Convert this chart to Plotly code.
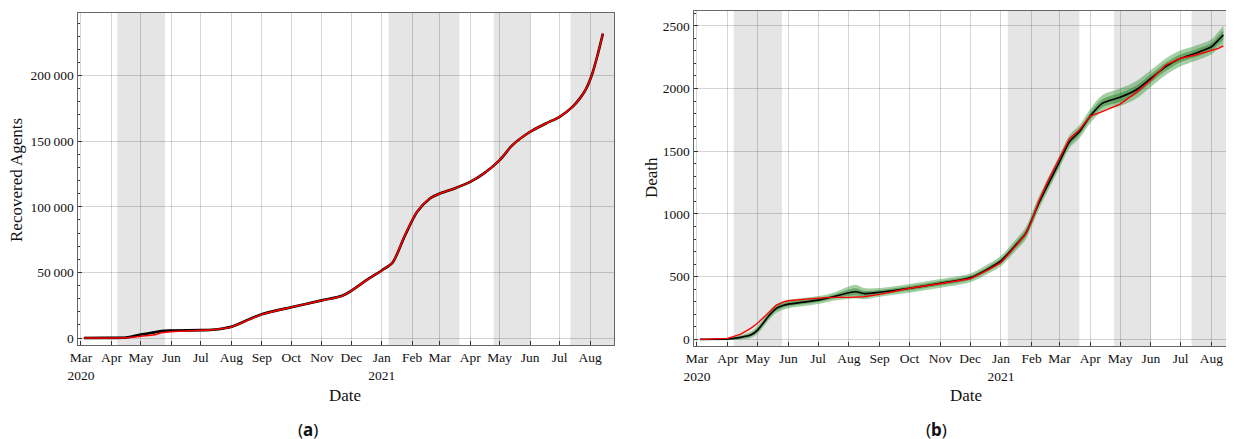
import plotly.graph_objects as go

# ---------------------------------------------------------------------------
# data

# (a) recovered agents
rec_dates = ['2020-03-04', '2020-04-01', '2020-04-16', '2020-05-01', '2020-05-15', '2020-05-22',
             '2020-06-01', '2020-07-01', '2020-07-13', '2020-07-25', '2020-08-01', '2020-08-19',
             '2020-09-01', '2020-10-01', '2020-11-01', '2020-11-21', '2020-12-01', '2020-12-18',
             '2021-01-01', '2021-01-12', '2021-01-24', '2021-02-06', '2021-02-19', '2021-03-01',
             '2021-03-16', '2021-04-01', '2021-04-15', '2021-05-01', '2021-05-14', '2021-06-01',
             '2021-06-17', '2021-07-01', '2021-07-14', '2021-07-22', '2021-07-28', '2021-08-03',
             '2021-08-08', '2021-08-14']
rec_model = [0, 100, 400, 2700, 4300, 5300, 5700, 6000, 6300, 7500, 8600, 14200, 18200, 23500,
             28700, 32000, 36000, 44900, 51500, 57500, 77100, 96200, 106400, 110200, 114000,
             119000, 125500, 135600, 147000, 157200, 163500, 168600, 176200, 183000, 190000,
             201000, 214000, 232000]
rec_data = [0, 50, 200, 1400, 2500, 4000, 4800, 5900, 6300, 7400, 8500, 14000, 18000, 23400,
            28600, 31900, 35900, 44800, 51400, 57500, 77500, 96500, 106400, 110200, 114000,
            119000, 125500, 135600, 147000, 157200, 163500, 168600, 176200, 183000, 190000,
            201000, 214000, 232000]

# (b) deaths
death_dates = ['2020-03-04', '2020-04-01', '2020-04-14', '2020-04-24', '2020-05-01', '2020-05-13',
               '2020-05-20', '2020-05-28', '2020-06-01', '2020-07-01', '2020-07-16', '2020-08-01',
               '2020-08-08', '2020-08-16', '2020-09-01', '2020-10-01', '2020-11-01', '2020-12-01',
               '2020-12-20', '2021-01-01', '2021-01-16', '2021-01-26', '2021-02-01', '2021-02-08',
               '2021-02-18', '2021-03-01', '2021-03-11', '2021-03-21', '2021-04-01', '2021-04-13',
               '2021-05-01', '2021-05-17', '2021-06-01', '2021-06-16', '2021-07-01', '2021-07-16',
               '2021-08-01', '2021-08-08', '2021-08-13']
death_model = [0, 3, 16, 34, 74, 194, 247, 273, 281, 313, 340, 372, 380, 365, 375, 407, 447, 491,
               566, 625, 752, 845, 951, 1084, 1244, 1416, 1576, 1655, 1781, 1882, 1930, 1988,
               2081, 2174, 2241, 2281, 2333, 2387, 2427]
death_data = [0, 8, 42, 88, 128, 220, 273, 300, 308, 329, 335, 335, 337, 340, 359, 407, 443, 483,
              558, 611, 745, 840, 945, 1100, 1275, 1440, 1600, 1670, 1781, 1815, 1876, 1967,
              2068, 2187, 2241, 2267, 2307, 2320, 2339]
death_band_outer = [2, 10, 18, 24, 30, 34, 34, 34, 34, 32, 32, 50, 55, 45, 35, 35, 35, 35, 38, 42,
                    45, 48, 50, 52, 52, 52, 52, 52, 56, 65, 70, 70, 66, 66, 64, 60, 60, 66, 72]
death_band_inner = [1, 5, 9, 12, 15, 17, 17, 17, 17, 16, 16, 25, 28, 22, 18, 18, 18, 18, 19, 21,
                    23, 24, 25, 26, 26, 26, 26, 26, 28, 33, 35, 35, 33, 33, 32, 30, 30, 33, 36]

# shaded periods
shade_start = ['2020-04-07', '2021-01-08', '2021-04-25', '2021-07-12']
shade_end = ['2020-05-25 12:00', '2021-03-21', '2021-06-01', '2021-09-01']

# axis ticks
month_ticks = ['2020-03-01', '2020-04-01', '2020-05-01', '2020-06-01', '2020-07-01', '2020-08-01',
               '2020-09-01', '2020-10-01', '2020-11-01', '2020-12-01', '2021-01-01', '2021-02-01',
               '2021-03-01', '2021-04-01', '2021-05-01', '2021-06-01', '2021-07-01', '2021-08-01']
month_labels = ['Mar<br>2020', 'Apr', 'May', 'Jun', 'Jul', 'Aug', 'Sep', 'Oct', 'Nov', 'Dec',
                'Jan<br>2021', 'Feb', 'Mar', 'Apr', 'May', 'Jun', 'Jul', 'Aug']
rec_ticks = [0, 50000, 100000, 150000, 200000]
rec_labels = ['0', '50\u2009000', '100\u2009000', '150\u2009000', '200\u2009000']
death_ticks = [0, 500, 1000, 1500, 2000, 2500]

# ---------------------------------------------------------------------------
SERIF = 'Liberation Serif'
W, H = 1234, 439
OFF = 8   # the page body margin shifts the figure by this much
OUTER = 'rgba(40,140,40,0.42)'
INNER = 'rgba(20,115,20,0.42)'


def fx(p):
    return (p - OFF) / W


def fy(p):
    return 1 - (p - OFF) / H


fig = go.Figure()


def add_band(x, mid, half, color, xa, ya):
    lo = [m - h for m, h in zip(mid, half)]
    hi = [m + h for m, h in zip(mid, half)]
    fig.add_trace(go.Scatter(x=x, y=lo, mode='lines', line=dict(width=0, shape='spline'),
                             xaxis=xa, yaxis=ya, hoverinfo='skip', showlegend=False))
    fig.add_trace(go.Scatter(x=x, y=hi, mode='lines', line=dict(width=0, shape='spline'),
                             fill='tonexty', fillcolor=color,
                             xaxis=xa, yaxis=ya, hoverinfo='skip', showlegend=False))


# (a)
add_band(rec_dates, rec_model, [900] * len(rec_dates), OUTER, 'x', 'y')
fig.add_trace(go.Scatter(x=rec_dates, y=rec_model, mode='lines',
                         line=dict(color='black', width=2.6, shape='spline', smoothing=0.8),
                         xaxis='x', yaxis='y', showlegend=False))
fig.add_trace(go.Scatter(x=rec_dates, y=rec_data, mode='lines',
                         line=dict(color='#ff0000', width=1.6, shape='spline', smoothing=0.8),
                         xaxis='x', yaxis='y', showlegend=False))

# (b)
add_band(death_dates, death_model, death_band_outer, OUTER, 'x2', 'y2')
add_band(death_dates, death_model, death_band_inner, INNER, 'x2', 'y2')
fig.add_trace(go.Scatter(x=death_dates, y=death_model, mode='lines',
                         line=dict(color='black', width=1.6, shape='spline', smoothing=0.6),
                         xaxis='x2', yaxis='y2', showlegend=False))
fig.add_trace(go.Scatter(x=death_dates, y=death_data, mode='lines',
                         line=dict(color='#ff0000', width=1.4),
                         xaxis='x2', yaxis='y2', showlegend=False))

# shaded periods, below the grid
for xr, yr in [('x', 'y domain'), ('x2', 'y2 domain')]:
    for s, e in zip(shade_start, shade_end):
        fig.add_shape(type='rect', xref=xr, yref=yr, x0=s, x1=e, y0=0, y1=1,
                      fillcolor='#e5e5e5', line=dict(width=0), layer='below')

grid = 'rgba(0,0,0,0.17)'
axis_common = dict(showline=True, linecolor='#666666', linewidth=1.2, mirror=True,
                   ticks='inside', ticklen=4, tickcolor='#333333', automargin=False,
                   showgrid=True, gridcolor=grid, gridwidth=1, zeroline=False,
                   tickfont=dict(family=SERIF, size=13.5, color='#111111'))

xcommon = dict(axis_common, type='date', tickvals=month_ticks, ticktext=month_labels)
fig.update_layout(
    width=W, height=H,
    margin=dict(l=0, r=0, t=0, b=0, pad=0),
    paper_bgcolor='white', plot_bgcolor='white',
    xaxis=dict(xcommon, domain=[fx(77.5), fx(614)], anchor='y',
               range=['2020-02-26 12:00', '2021-08-25 07:00']),
    yaxis=dict(axis_common, domain=[fy(345), fy(13)], anchor='x',
               range=[-5300, 247700], tickvals=rec_ticks, ticktext=rec_labels,
               minor=dict(dtick=10000, ticks='inside', ticklen=2, tickcolor='#333333', showgrid=False)),
    xaxis2=dict(xcommon, domain=[fx(693.5), fx(1233)], anchor='y2',
                range=['2020-02-26 12:00', '2021-08-22 16:00']),
    yaxis2=dict(axis_common, domain=[fy(346), fy(11)], anchor='x2',
                range=[-53, 2618], tickvals=death_ticks,
                minor=dict(dtick=100, ticks='inside', ticklen=2, tickcolor='#333333', showgrid=False)),
)

# axis titles and panel captions (reference pixel positions)
notes = [
    ('Recovered Agents', 16, 180, -90, SERIF, 17),
    ('Date', 345, 395, 0, SERIF, 17),
    ('Death', 651, 178, -90, SERIF, 17),
    ('Date', 966, 395, 0, SERIF, 17),
    ('(<b>a</b>)', 308, 429, 0, 'Noto Sans', 17),
    ('(<b>b</b>)', 936, 429, 0, 'Noto Sans', 17),
]
for text, xp, yp, rot, fam, size in notes:
    fig.add_annotation(text=text, x=fx(xp), y=fy(yp), xref='paper', yref='paper', showarrow=False,
                       textangle=rot, xanchor='center', yanchor='middle',
                       font=dict(family=fam, size=size, color='#111111'))

fig.write_html("out.html")
